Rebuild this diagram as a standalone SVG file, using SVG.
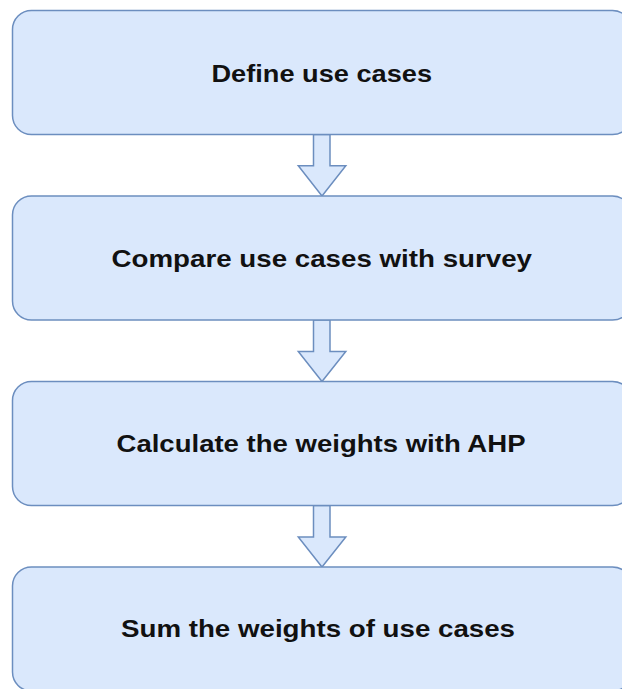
<svg xmlns="http://www.w3.org/2000/svg" width="622" height="689" viewBox="0 0 622 689">
<style>
.box{fill:#dae8fc;stroke:#6c8ebf;stroke-width:1.5}
.arr{fill:#dae8fc;stroke:#6c8ebf;stroke-width:1.5;stroke-linejoin:miter}
.lbl{font-family:"Liberation Sans",Arial,Helvetica,sans-serif;font-weight:bold;font-size:24px;fill:#111}
</style>
<rect width="622" height="689" fill="#ffffff"/>
<g id="connectors">
<path class="arr" d="M313.5,134.5 V165.7 H298.3 L322,196 L345.8,165.7 H330 V134.5 Z"/>
<path class="arr" d="M313.5,320 V351.5 H298.3 L322,381.5 L345.8,351.5 H330 V320 Z"/>
<path class="arr" d="M313.5,505.5 V537 H298.3 L322,567 L345.8,537 H330 V505.5 Z"/>
</g>
<g id="node1">
<rect class="box" x="12.5" y="10.5" width="619" height="124" rx="19" ry="19"/>
<text class="lbl" x="211.5" y="82" textLength="220.5" lengthAdjust="spacingAndGlyphs">Define use cases</text>
</g>
<g id="node2">
<rect class="box" x="12.5" y="196" width="619" height="124" rx="19" ry="19"/>
<text class="lbl" x="111.5" y="267" textLength="420.5" lengthAdjust="spacingAndGlyphs">Compare use cases with survey</text>
</g>
<g id="node3">
<rect class="box" x="12.5" y="381.5" width="619" height="124" rx="19" ry="19"/>
<text class="lbl" x="116.5" y="452" textLength="409" lengthAdjust="spacingAndGlyphs">Calculate the weights with AHP</text>
</g>
<g id="node4">
<rect class="box" x="12.5" y="567" width="619" height="124" rx="19" ry="19"/>
<text class="lbl" x="121" y="637" textLength="394" lengthAdjust="spacingAndGlyphs">Sum the weights of use cases</text>
</g>
</svg>
